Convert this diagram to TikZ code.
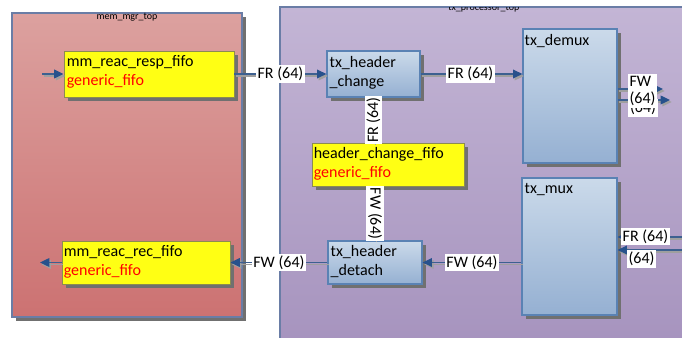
\documentclass[tikz,border=0pt]{standalone}
\usepackage{fontspec}
\setmainfont{Carlito}
\usetikzlibrary{arrows.meta,fit,calc,shadows}

\definecolor{memtop}{HTML}{DCA19F}
\definecolor{membot}{HTML}{CC7272}
\definecolor{proctop}{HTML}{C3B5D5}
\definecolor{procbot}{HTML}{A592BD}
\definecolor{frameline}{HTML}{6A7DA6}
\definecolor{blktop}{HTML}{CBDAEA}
\definecolor{blkbot}{HTML}{95B0D2}
\definecolor{blkline}{HTML}{5A82B4}
\definecolor{fifofill}{HTML}{FFFF14}
\definecolor{fifoline}{HTML}{8C8C50}
\definecolor{wirecol}{HTML}{3D6090}
\definecolor{tipcol}{HTML}{27518C}
\definecolor{shadecol}{HTML}{707070}

\tikzset{
  boxshadow/.style={drop shadow={shadow xshift=3.2pt, shadow yshift=-3.2pt,
      fill=shadecol, opacity=1}},
  container/.style={inner sep=0pt, draw=frameline, line width=0.9pt,
      boxshadow},
  memfill/.style={top color=memtop, bottom color=membot},
  procfill/.style={top color=proctop, bottom color=procbot},
  blkbox/.style={inner sep=0pt, draw=blkline, line width=0.9pt,
      top color=blktop, bottom color=blkbot, boxshadow},
  fifobox/.style={inner sep=0pt, draw=fifoline, line width=0.7pt,
      fill=fifofill, boxshadow},
  blktext/.style={anchor=base west, inner sep=0pt,
      font=\fontsize{12}{14}\selectfont, text=black},
  typetext/.style={blktext, text=red},
  titletext/.style={inner sep=0pt, font=\fontsize{7.5}{9}\selectfont},
  wire/.style={draw=wirecol, line width=1pt,
      -{Triangle[length=7pt,width=6.5pt,color=tipcol]},
      preaction={draw=gray!75, line width=0.9pt,
        -{Triangle[length=7pt,width=6.5pt,color=gray!75]},
        transform canvas={xshift=1.2pt,yshift=-1.5pt}}},
  sig/.style={fill=white, inner sep=1.2pt, text=black,
      font=\fontsize{12}{14}\selectfont},
}

\begin{document}
\begin{tikzpicture}[x=0.75pt,y=-0.75pt]
  \useasboundingbox (0,0) rectangle (682,338);
  \fill[white] (0,0) rectangle (682,338);
  \clip (0,0) rectangle (682,338);

  % enclosing blocks
  \node[container, memfill, fit={(12,13) (242,317)}] (mem) {};
  \node[container, procfill, fit={(280,7) (720,360)}] (proc) {};
  \node[titletext] (memtitle) at (127,17) {mem\_mgr\_top};
  \begin{scope}
    \clip (281,7.6) rectangle (682,338);
    \node[titletext, anchor=west] (proctitle) at (448,8.6) {tx\_processor\_top};
  \end{scope}

  % inner blocks
  \node[fifobox, fit={(64,51) (234,97)}]   (resp)  {};
  \node[fifobox, fit={(62,241) (230,284)}] (rec)   {};
  \node[fifobox, fit={(312,143) (464,186)}] (hcf)  {};
  \node[blkbox,  fit={(327,51) (420,97)}]  (chg)   {};
  \node[blkbox,  fit={(328,241) (422,284)}] (det)  {};
  \node[blkbox,  fit={(523,29) (617,163)}] (demux) {};
  \node[blkbox,  fit={(522,178) (617,315)}] (mux)  {};

  % block names and types
  \node[blktext]  (respname) at ($(resp.north west)+(3,16)$) {mm\_reac\_resp\_fifo};
  \node[typetext] (resptype) at ($(resp.north west)+(3,35)$) {generic\_fifo};
  \node[blktext]  (recname)  at ($(rec.north west)+(2,16)$) {mm\_reac\_rec\_fifo};
  \node[typetext] (rectype)  at ($(rec.north west)+(2,34.5)$) {generic\_fifo};
  \node[blktext]  (hcfname)  at ($(hcf.north west)+(2,15.5)$) {header\_change\_fifo};
  \node[typetext] (hcftype)  at ($(hcf.north west)+(2,34.5)$) {generic\_fifo};
  \node[blktext]  (chgname)  at ($(chg.north west)+(3,17)$) {tx\_header};
  \begin{scope}
    \clip (327,72) rectangle (383.5,97);
    \node[blktext] (chgname2) at ($(chg.north west)+(3,36)$) {\_change};
  \end{scope}
  \node[blktext]  (detname)  at ($(det.north west)+(3,16)$) {tx\_header};
  \begin{scope}
    \clip (328,261) rectangle (381,284);
    \node[blktext] (detname2) at ($(det.north west)+(3,35)$) {\_detach};
  \end{scope}
  \node[blktext]  (demuxname) at ($(demux.north west)+(2,17)$) {tx\_demux};
  \node[blktext]  (muxname)   at ($(mux.north west)+(3,16)$) {tx\_mux};

  % free ends of the connectors
  \coordinate (respin)  at (42,74);
  \coordinate (recout)  at (40,262.5);
  \coordinate (dmout1)  at (663,89);
  \coordinate (dmout2)  at (670,100);
  \coordinate (muxin1)  at (690,237);
  \coordinate (muxin2)  at (690,250);

  % connectors
  \draw[wire] (respin) -- (resp.west);
  \draw[wire] (resp.east) -- (chg.west)
     node[sig, midway] (l1) {FR (64)};
  \draw[wire] (chg.east) -- (chg.east -| demux.west)
     node[sig, pos=0.49] (l2) {FR (64)};
  \draw[wire] (hcf.north -| chg.south) -- (chg.south)
     node[sig, midway, rotate=90] (l3) {FR (64)};
  \draw[wire] (det.north) -- (det.north |- hcf.south)
     node[sig, midway, rotate=-90] (l4) {FW (64)};
  \draw[wire] (mux.west |- det.east) -- (det.east)
     node[sig, midway] (l5) {FW (64)};
  \draw[wire] (det.west) -- (rec.east)
     node[sig, midway] (l6) {FW (64)};
  \draw[wire] (rec.west) -- (recout);
  \draw[wire] (demux.east |- dmout1) -- (dmout1);
  \draw[wire] (demux.east |- dmout2) -- (dmout2);
  \draw[wire] (muxin1) -- (muxin1 -| mux.east);
  \draw[wire] (muxin2) -- (muxin2 -| mux.east);

  % labels of the side ports
  \node[sig] (l7) at (643,108) {(64)};
  \node[sig, align=left] (l8) at (642.5,91) {FW\\[-1pt](64)};
  \node[sig] (l9) at (645.5,236.5) {FR (64)};
  \node[sig] (l10) at (641.5,259) {(64)};
\end{tikzpicture}
\end{document}
